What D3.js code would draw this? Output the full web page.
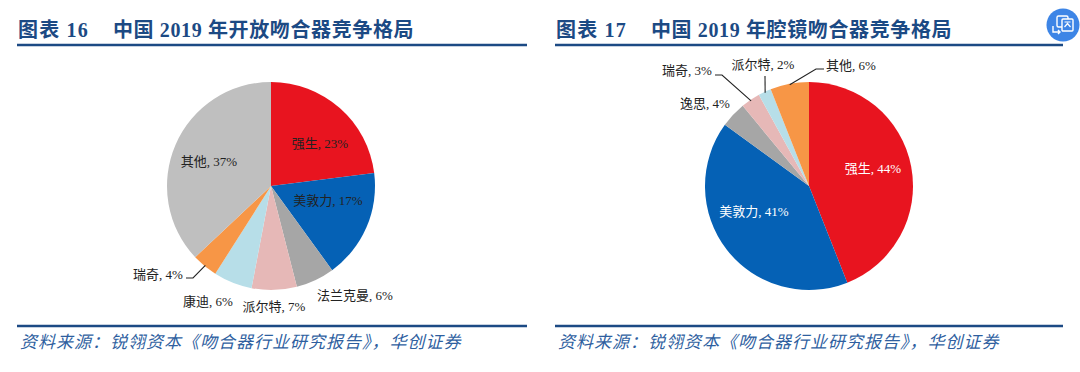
<!DOCTYPE html>
<html><head><meta charset="utf-8">
<script src="https://cdn.jsdelivr.net/npm/d3@7/dist/d3.min.js"></script>
<style>html,body{margin:0;padding:0;background:#fff;overflow:hidden}svg{display:block}</style>
</head><body><svg id="c" width="1080" height="372"></svg>
<script>
const titles = ["图表 16", "图表 17"];
const subtitles = ["中国 2019 年开放吻合器竞争格局", "中国 2019 年腔镜吻合器竞争格局"];
const source = "资料来源\uFF1A锐翎资本《吻合器行业研究报告》\uFF0C华创证券";
const names1 = ["强生","美敦力","法兰克曼","派尔特","康迪","瑞奇","其他"];
const values1 = [23,17,6,7,6,4,37];
const names2 = ["强生","美敦力","逸思","瑞奇","派尔特","其他"];
const values2 = [44,41,4,3,2,6];
const colors1 = ["#E8141F","#0561B5","#A6A6A6","#E6B8B7","#B7DEE8","#F79646","#BFBFBF"];
const colors2 = ["#E8141F","#0561B5","#A6A6A6","#E6B8B7","#B7DEE8","#F79646"];

// layout only: label centres relative to the pie centre, and leader elbows
const labelPos1 = [[49,-43],[57,14],[84,109],[3,120],[-63,115],[-113,88],[-62,-25]];
const labelPos2 = [[64,-18],[-55,25],[-104,-83],[-122,-116],[-46,-122],[42,-121]];
const leaders1 = {5:[[-78,92],[-85,92]]};
const leaders2 = {3:[[-87,-111],[-94,-111]],4:[[-44,-110]],5:[[7,-117],[15,-117]]};

const FONT = '"Liberation Serif","Noto Sans CJK SC",serif';
const svg = d3.select("#c");
const R = 104;
const panels = [
  {x0:17,x1:527,cx:271,names:names1,values:values1,colors:colors1,pos:labelPos1,leaders:leaders1,white:[]},
  {x0:555,x1:1063,cx:809,names:names2,values:values2,colors:colors2,pos:labelPos2,leaders:leaders2,white:[0,1]}
];
const pie = d3.pie().sort(null);
const arc = d3.arc().innerRadius(0).outerRadius(R);
const line = d3.line();

panels.forEach((p,pi)=>{
  const g = svg.append("g");
  g.append("text").attr("x",p.x0+1).attr("y",37)
    .attr("font-family",FONT).attr("font-weight",700).attr("font-size",20).attr("letter-spacing",1.2)
    .attr("fill","#1C4A84").text(titles[pi]);
  g.append("text").attr("x",p.x0+96).attr("y",37)
    .attr("font-family",FONT).attr("font-weight",700).attr("font-size",20).attr("letter-spacing",0.62)
    .attr("fill","#1C4A84").text(subtitles[pi]);
  g.append("line").attr("x1",p.x0).attr("x2",p.x1).attr("y1",45).attr("y2",45)
    .attr("stroke","#1C4A84").attr("stroke-width",2.4);
  g.append("line").attr("x1",p.x0).attr("x2",p.x1).attr("y1",326).attr("y2",326)
    .attr("stroke","#1C4A84").attr("stroke-width",2.4);
  g.append("text").attr("x",p.x0+3).attr("y",348)
    .attr("font-family",FONT).attr("font-style","italic").attr("font-size",17).attr("letter-spacing",1)
    .attr("fill","#2F5F9F").text(source);

  const c = g.append("g").attr("transform",`translate(${p.cx},186)`);
  const arcs = pie(p.values);
  c.selectAll("path.s").data(arcs).join("path").attr("class","s")
    .attr("d",arc).attr("fill",(d,i)=>p.colors[i]);
  Object.keys(p.leaders).forEach(k=>{
    const a = arcs[+k], mid=(a.startAngle+a.endAngle)/2;
    const start = [Math.sin(mid)*(R-1), -Math.cos(mid)*(R-1)];
    c.append("path").attr("d",line([start,...p.leaders[k]]))
      .attr("fill","none").attr("stroke","#222").attr("stroke-width",1.1);
  });
  c.selectAll("text.l").data(arcs).join("text").attr("class","l")
    .attr("x",(d,i)=>p.pos[i][0]).attr("y",(d,i)=>p.pos[i][1]+4.5)
    .attr("text-anchor","middle").attr("font-family",FONT).attr("font-size",13)
    .attr("fill",(d,i)=>p.white.includes(i)?"#fff":"#222")
    .text((d,i)=>`${p.names[i]}, ${d.value}%`);
});

// corner badge
const b = svg.append("g").attr("transform","translate(1063,25)");
b.append("circle").attr("r",16.5).attr("fill","#3D85E6");
b.append("rect").attr("x",-6).attr("y",-9).attr("width",11).attr("height",11).attr("rx",1.5).attr("fill","none").attr("stroke","#fff").attr("stroke-width",1.4);
b.append("rect").attr("x",-1).attr("y",-6).attr("width",11).attr("height",12).attr("rx",1).attr("fill","#3D85E6").attr("stroke","#fff").attr("stroke-width",1.4);
b.append("path").attr("d","M1.5,2 L4.5,-1.5 L7.5,2 M1.5,-3 H7.5").attr("fill","none").attr("stroke","#fff").attr("stroke-width",1.2);
b.append("path").attr("d","M-10,1 V7 H-3 M-5,5 L-3,7 L-5,9").attr("fill","none").attr("stroke","#fff").attr("stroke-width",1.4);
</script></body></html>
